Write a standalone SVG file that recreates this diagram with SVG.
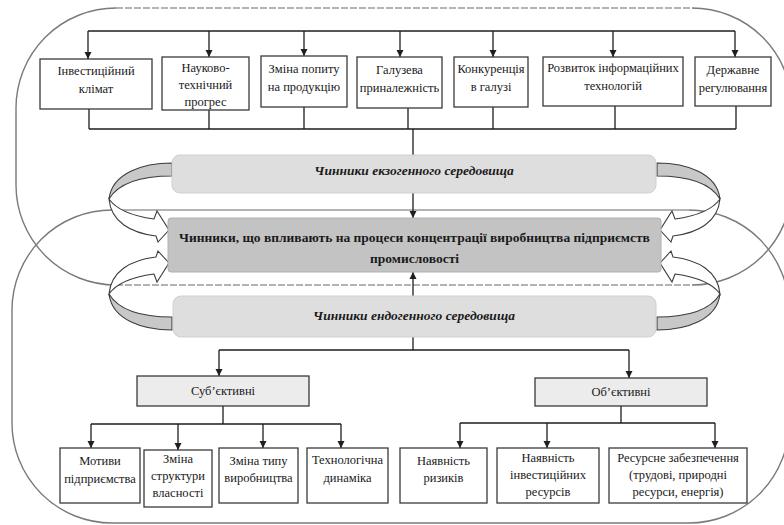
<svg xmlns="http://www.w3.org/2000/svg" xmlns:xlink="http://www.w3.org/1999/xlink" width="784" height="525" viewBox="0 0 784 525">
<style>
  .bg { fill: #ffffff; }
  .frame { fill: none; stroke: #7a7a7a; stroke-width: 1.4; }
  .frame-dash { fill: none; stroke: #9a9a9a; stroke-width: 1.6; stroke-dasharray: 7 2; }
  .frame-band { fill: none; stroke: #b4b4b4; stroke-width: 2.2; }
  .box { fill: #ffffff; stroke: #3a3a3a; stroke-width: 1.3; }
  .gbox { fill: #ececec; stroke: #3a3a3a; stroke-width: 1.3; }
  .exo { fill: #dedede; stroke: #d0d0d0; stroke-width: 1; }
  .main { fill: #c3c3c3; stroke: #b0b0b0; stroke-width: 1; }
  .ln { fill: none; stroke: #1e1e1e; stroke-width: 1.3; }
  .band { fill: #c8c8c8; stroke: #3c3c3c; stroke-width: 1.1; }
  .warrow { fill: #ffffff; stroke: #3c3c3c; stroke-width: 1.1; }
  .t { font-size: 12.5px; }
  .tb { font-size: 13.5px; font-weight: bold; }
  .ti { font-size: 13.5px; font-weight: bold; font-style: italic; }
</style>
<defs>
  <marker id="ah" viewBox="0 0 10 10" refX="10" refY="5" markerWidth="7" markerHeight="8" orient="auto" markerUnits="userSpaceOnUse">
    <path d="M0,0 L10,5 L0,10 z" fill="#1e1e1e"/>
  </marker>
  <g id="curl">
    <path class="band" d="M172,163 C143,163 112,173 109,199 C118,184 140,176 172,176 Z"/>
    <path class="warrow" d="M109,199 C116,209 132,216 154,219 L157,211 L169,230 L158,242 L156,236 C131,233 111,222 109,199 Z"/>
  </g>
</defs>
<rect class="bg" x="0" y="0" width="784" height="525"/>

<g id="frames">
  <path class="frame" d="M116,8 A100,100 0 0 0 16,108 L16,185 A100,100 0 0 0 116,285 M692,8 A100,100 0 0 1 792,108 L792,185 A100,100 0 0 1 692,285"/>
  <path class="frame-dash" d="M116,8 L692,8 M116,285 L692,285"/>
  <path class="frame" d="M112,210 A100,100 0 0 0 12,310 L12,423 A100,100 0 0 0 112,523 L689,523 A100,100 0 0 0 789,423 L789,310 A100,100 0 0 0 689,210"/>
  <path class="frame-band" d="M112,210 L689,210"/>
</g>

<g id="connectors">
  <path class="ln" d="M88,31 L735,31"/>
  <path class="ln" d="M88,31 L88,59" marker-end="url(#ah)"/>
  <path class="ln" d="M209,31 L209,57" marker-end="url(#ah)"/>
  <path class="ln" d="M304,31 L304,56" marker-end="url(#ah)"/>
  <path class="ln" d="M400,31 L400,57" marker-end="url(#ah)"/>
  <path class="ln" d="M493,31 L493,57" marker-end="url(#ah)"/>
  <path class="ln" d="M613,31 L613,57" marker-end="url(#ah)"/>
  <path class="ln" d="M735,31 L735,57" marker-end="url(#ah)"/>
  <path class="ln" d="M89,109 L89,129 M209,110 L209,129 M304,107 L304,129 M408,108 L408,129 M493,107 L493,129 M615,106 L615,129 M736,106 L736,129 M89,129 L736,129 M413,129 L413,155"/>
  <path class="ln" d="M413,193 L413,218" marker-end="url(#ah)"/>
  <path class="ln" d="M413,296 L413,272" marker-end="url(#ah)"/>
  <path class="ln" d="M413,337 L413,350 M219,350 L629,350"/>
  <path class="ln" d="M219,350 L219,376" marker-end="url(#ah)"/>
  <path class="ln" d="M629,350 L629,378" marker-end="url(#ah)"/>
  <path class="ln" d="M223,406 L223,424 M91,424 L341,424"/>
  <path class="ln" d="M91,424 L91,448" marker-end="url(#ah)"/>
  <path class="ln" d="M178,424 L178,450" marker-end="url(#ah)"/>
  <path class="ln" d="M263,424 L263,448" marker-end="url(#ah)"/>
  <path class="ln" d="M341,424 L341,448" marker-end="url(#ah)"/>
  <path class="ln" d="M621,406 L621,423 M460,423 L715,423"/>
  <path class="ln" d="M460,423 L460,448" marker-end="url(#ah)"/>
  <path class="ln" d="M547,423 L547,448" marker-end="url(#ah)"/>
  <path class="ln" d="M715,423 L715,448" marker-end="url(#ah)"/>
  <use xlink:href="#curl" href="#curl"/>
  <use xlink:href="#curl" href="#curl" transform="translate(0,493) scale(1,-1)"/>
  <use xlink:href="#curl" href="#curl" transform="translate(829,0) scale(-1,1)"/>
  <use xlink:href="#curl" href="#curl" transform="translate(829,493) scale(-1,-1)"/>
</g>

<g id="nodes" font-family="'Liberation Serif', 'DejaVu Serif', 'Times New Roman', serif" fill="#1a1a1a" text-anchor="middle">
<g id="n-invest"><rect class="box" x="40" y="59" width="112" height="50"/><text class="t"><tspan x="96" y="75">Інвестиційний</tspan><tspan x="96" y="93">клімат</tspan></text></g>
<g id="n-ntp"><rect class="box" x="162" y="57" width="87" height="53"/><text class="t"><tspan x="205.5" y="72">Науково-</tspan><tspan x="205.5" y="89">технічний</tspan><tspan x="205.5" y="106">прогрес</tspan></text></g>
<g id="n-demand"><rect class="box" x="261" y="56" width="86" height="51"/><text class="t"><tspan x="304" y="73">Зміна попиту</tspan><tspan x="304" y="91">на продукцію</tspan></text></g>
<g id="n-branch"><rect class="box" x="357" y="57" width="85" height="51"/><text class="t"><tspan x="399.5" y="74">Галузева</tspan><tspan x="399.5" y="92">приналежність</tspan></text></g>
<g id="n-compet"><rect class="box" x="454" y="57" width="74" height="50"/><text class="t"><tspan x="491" y="73">Конкуренція</tspan><tspan x="491" y="91">в галузі</tspan></text></g>
<g id="n-it"><rect class="box" x="543" y="57" width="140" height="49"/><text class="t"><tspan x="613" y="72">Розвиток інформаційних</tspan><tspan x="613" y="90">технологій</tspan></text></g>
<g id="n-state"><rect class="box" x="695" y="57" width="76" height="49"/><text class="t"><tspan x="733" y="74">Державне</tspan><tspan x="733" y="92">регулювання</tspan></text></g>

<g id="n-exo"><rect class="exo" x="172" y="155" width="484" height="38" rx="8"/><text class="ti" x="414" y="175">Чинники екзогенного середовища</text></g>
<g id="n-main"><rect class="main" x="168" y="218" width="493" height="54" rx="3"/><text class="tb"><tspan x="414.5" y="242">Чинники, що впливають на процеси концентрації виробництва підприємств</tspan><tspan x="414.5" y="263">промисловості</tspan></text></g>
<g id="n-endo"><rect class="exo" x="173" y="296" width="483" height="41" rx="8"/><text class="ti" x="414" y="320">Чинники ендогенного середовища</text></g>

<g id="n-subj"><rect class="gbox" x="137" y="376" width="172" height="30"/><text class="t" x="223" y="395">Суб’єктивні</text></g>
<g id="n-obj"><rect class="gbox" x="535" y="378" width="172" height="28"/><text class="t" x="621" y="396">Об’єктивні</text></g>

<g id="n-motive"><rect class="box" x="60" y="448" width="80" height="55"/><text class="t"><tspan x="100" y="465">Мотиви</tspan><tspan x="100" y="483">підприємства</tspan></text></g>
<g id="n-owner"><rect class="box" x="144" y="450" width="68" height="57"/><text class="t"><tspan x="178" y="463">Зміна</tspan><tspan x="178" y="480">структури</tspan><tspan x="178" y="497">власності</tspan></text></g>
<g id="n-prodtype"><rect class="box" x="219" y="448" width="79" height="55"/><text class="t"><tspan x="258.5" y="465">Зміна типу</tspan><tspan x="258.5" y="482">виробництва</tspan></text></g>
<g id="n-tech"><rect class="box" x="307" y="448" width="81" height="55"/><text class="t"><tspan x="347.5" y="464">Технологічна</tspan><tspan x="347.5" y="482">динаміка</tspan></text></g>
<g id="n-risk"><rect class="box" x="400" y="448" width="87" height="55"/><text class="t"><tspan x="443.5" y="465">Наявність</tspan><tspan x="443.5" y="482">ризиків</tspan></text></g>
<g id="n-invres"><rect class="box" x="497" y="448" width="102" height="55"/><text class="t"><tspan x="548" y="462">Наявність</tspan><tspan x="548" y="479">інвестиційних</tspan><tspan x="548" y="496">ресурсів</tspan></text></g>
<g id="n-resource"><rect class="box" x="609" y="448" width="138" height="55"/><text class="t"><tspan x="678" y="462">Ресурсне забезпечення</tspan><tspan x="678" y="479">(трудові, природні</tspan><tspan x="678" y="496">ресурси, енергія)</tspan></text></g>
</g>
</svg>
